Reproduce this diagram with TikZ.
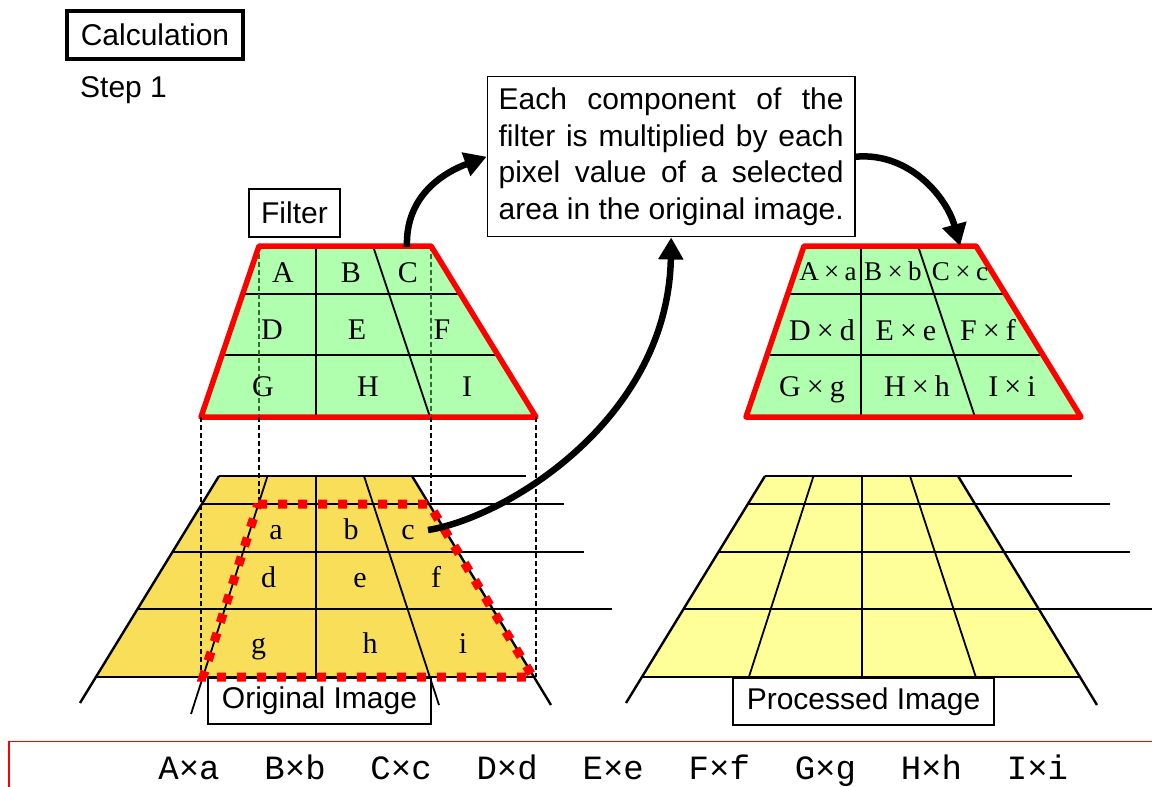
\documentclass[tikz,border=0pt]{standalone}
\usepackage{fontspec}
\setmainfont{Liberation Sans}
\newfontfamily\serifA{Liberation Serif}
\newfontfamily\monoA{Liberation Mono}
\usetikzlibrary{arrows.meta,calc}
\definecolor{fgreen}{RGB}{175,255,175}
\definecolor{ogold}{RGB}{249,222,90}
\definecolor{plight}{RGB}{255,255,153}
\definecolor{dgreen}{RGB}{50,110,50}
\newcommand\persgrid[1]{%
  \fill[#1] (219,476) -- (412,476) -- (533.6,677) -- (96,677) -- cycle;
  \draw[gridline] (219,476) -- (526,476);
  \draw[gridline] (201.9,504) -- (564,504);
  \draw[gridline] (172.5,552) -- (584,552);
  \draw[gridline] (137.6,609) -- (612,609);
  \draw[gridline] (96,677) -- (533.6,677);
  \draw[gridline] (267.5,476) -- (191,714);
  \draw[gridline] (315.7,476) -- (315.7,677);
  \draw[gridline] (364,476) -- (439,705);
  \draw[edgeline] (219,476) -- (80,703);
  \draw[edgeline] (412,476) -- (551,705);
}
\newcommand\trapfilter{%
  \fill[fgreen] (259,246) -- (431,246) -- (536,417) -- (201,417) -- cycle;
  \draw[gridline] (242.7,294) -- (460.5,294);
  \draw[gridline] (222,355) -- (498,355);
  \draw[gridline] (316,246) -- (316,417);
  \draw[gridline] (373,246) -- (430,417);
}
\newcommand\trapoutline{%
  \draw[redline] (259,246) -- (431,246) -- (536,417) -- (201,417) -- cycle;
}
\begin{document}
\begin{tikzpicture}[x=1pt,y=-1pt,
  gridline/.style={line width=1.8pt,black},
  edgeline/.style={line width=2.4pt,black},
  redline/.style={line width=5.5pt,red,line join=round},
  projline/.style={line width=1.5pt,black,dash pattern=on 5pt off 3pt},
  greendash/.style={line width=1.5pt,dgreen,dash pattern=on 5pt off 3pt},
  dotline/.style={line width=9pt,red,dash pattern=on 9pt off 11pt},
  labbox/.style={draw,line width=1.6pt,fill=white,inner sep=0pt,font=\fontsize{30}{36}\selectfont},
  glyph/.style={inner sep=0pt,anchor=base,font=\serifA\fontsize{30}{30}\selectfont},
  prodA/.style={inner sep=0pt,anchor=base,font=\serifA\fontsize{27}{27}\selectfont},
  prodB/.style={inner sep=0pt,anchor=base,font=\serifA\fontsize{30}{30}\selectfont},
  mono/.style={inner sep=0pt,anchor=base,font=\monoA\fontsize{34}{34}\selectfont},
  bigarrow/.style={line width=6.5pt,-{Triangle[length=22pt,width=24pt]}}
]
\useasboundingbox (0,0) rectangle (1152,787);

% perspective grids
\persgrid{ogold}
\begin{scope}[xshift=546pt]
\persgrid{plight}
\end{scope}

% filter and result
\trapfilter
\draw[greendash] (259,246) -- (259,417);
\draw[greendash] (431,246) -- (431,417);
\trapoutline
\begin{scope}[xshift=545pt]
\trapfilter
\trapoutline
\end{scope}

% named corners
\coordinate (fTL) at (259,417);
\coordinate (fTR) at (431,417);
\coordinate (fBL) at (201,417);
\coordinate (fBR) at (536,417);
\coordinate (sTL) at (258,504);
\coordinate (sTR) at (429,504);
\coordinate (sBL) at (203,677);
\coordinate (sBR) at (533,677);
\draw[projline] (fBL) -- (fBL |- sBL);
\draw[projline] (fTL) -- (fTL |- sTL);
\draw[projline] (fTR) -- (fTR |- sTR);
\draw[projline] (fBR) -- (fBR |- sBR);

% labels
\node[draw,line width=4pt,minimum width=176pt,minimum height=48pt,inner sep=0pt,font=\fontsize{30}{36}\selectfont] (calc) at (155,35) {Calculation};
\node[inner sep=0pt,anchor=base west,font=\fontsize{30}{36}\selectfont] (step) at (80,97) {Step 1};
\node[labbox,minimum width=91.4pt,minimum height=48.4pt] (filt) at (294.5,213) {Filter};
\node[labbox,minimum width=223.4pt,minimum height=46.4pt] (orig) at (319.5,701) {Original Image};
\node[labbox,minimum width=261.4pt,minimum height=47.4pt] (proc) at (863.5,701.5) {Processed Image};

\draw[dotline] (sTL) -- (sTR) -- (sBR) -- (sBL) -- cycle;

% filter letters
\node[glyph] (fA) at (283,282) {A};
\node[glyph] (fB) at (351,282) {B};
\node[glyph] (fC) at (408,282) {C};
\node[glyph] (fD) at (272,339) {D};
\node[glyph] (fE) at (357,339) {E};
\node[glyph] (fF) at (442,339) {F};
\node[glyph] (fG) at (263,396) {G};
\node[glyph] (fH) at (368,396) {H};
\node[glyph] (fI) at (467,396) {I};
% image letters
\node[glyph] (oa) at (276,539) {a};
\node[glyph] (ob) at (351,539) {b};
\node[glyph] (oc) at (408,539) {c};
\node[glyph] (od) at (268.6,587) {d};
\node[glyph] (oe) at (360,587) {e};
\node[glyph] (of) at (436,587) {f};
\node[glyph] (og) at (258.6,653) {g};
\node[glyph] (oh) at (370,653) {h};
\node[glyph] (oi) at (463,653) {i};
% result letters
\node[prodA] (rA) at (828,280) {A\hspace{0.2em}×\hspace{0.2em}a};
\node[prodA] (rB) at (893,280) {B\hspace{0.2em}×\hspace{0.2em}b};
\node[prodA] (rC) at (960,280) {C\hspace{0.2em}×\hspace{0.2em}c};
\node[prodB] (rD) at (822,340) {D\hspace{0.2em}×\hspace{0.2em}d};
\node[prodB] (rE) at (906,340) {E\hspace{0.2em}×\hspace{0.2em}e};
\node[prodB] (rF) at (988,340) {F\hspace{0.2em}×\hspace{0.2em}f};
\node[prodB] (rG) at (812,396.5) {G\hspace{0.2em}×\hspace{0.2em}g};
\node[prodB] (rH) at (917,396.5) {H\hspace{0.2em}×\hspace{0.2em}h};
\node[prodB] (rI) at (1012,396.5) {I\hspace{0.2em}×\hspace{0.2em}i};

% description box
\node[draw,line width=1.5pt,fill=white,minimum width=367.7pt,minimum height=160pt,inner sep=0pt,align=left,font=\fontsize{30}{36.7}\selectfont] (desc) at (671.2,156.7)
 {\makebox[345pt][s]{Each component of the}\\
  \makebox[345pt][s]{filter is multiplied by each}\\
  \makebox[345pt][s]{pixel value of a selected}\\
  area in the original image.};

% arrows
\coordinate (ftop) at (407,247);
\coordinate (cstart) at (428,530);
\coordinate (rtop) at (960,246);
\draw[bigarrow] (ftop) .. controls (405,195) and (445,172) .. (desc.west);
\draw[bigarrow] (cstart) .. controls (505,518) and (668,420) .. (desc.south);
\draw[bigarrow] (desc.east) .. controls (910,152) and (947,198) .. (rtop);

% bottom strip
\draw[red,line width=1.8pt] (9,795) -- (9,741.5) -- (1160,741.5);
\node[mono] (b1) at (189,779) {A×a};
\node[mono] (b2) at (295.1,779) {B×b};
\node[mono] (b3) at (401.1,779) {C×c};
\node[mono] (b4) at (507.2,779) {D×d};
\node[mono] (b5) at (613.2,779) {E×e};
\node[mono] (b6) at (719.3,779) {F×f};
\node[mono] (b7) at (825.4,779) {G×g};
\node[mono] (b8) at (931.4,779) {H×h};
\node[mono] (b9) at (1037.5,779) {I×i};
\end{tikzpicture}
\end{document}
